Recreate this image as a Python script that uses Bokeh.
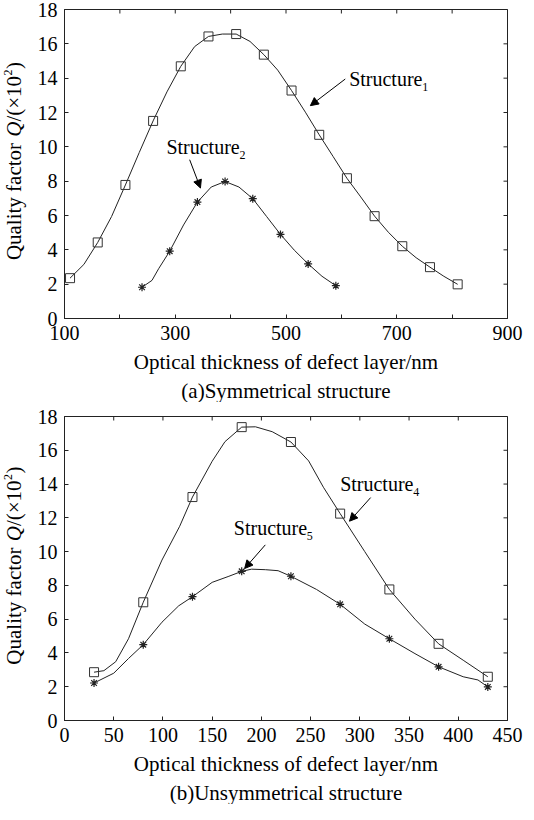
import math
from bokeh.plotting import figure
from bokeh.models import Range1d, FixedTicker, Label, Arrow, NormalHead, Title
from bokeh.layouts import column, row
from bokeh.embed import file_html
from bokeh.resources import INLINE

FONT = "Liberation Serif"

# ---------------- (a) Symmetrical structure ----------------
s1_x = [110, 160, 210, 260, 310, 360, 410, 460, 510, 560, 610, 660, 710, 760, 810]
s1_q = [2.35, 4.43, 7.78, 11.51, 14.69, 16.43, 16.57, 15.37, 13.28, 10.7, 8.17, 5.96, 4.21, 2.99, 1.99]
s1_curve_x = [110, 135, 160, 185, 210, 235, 260, 285, 310, 335, 360, 385, 410, 435, 460, 485,
              510, 535, 560, 585, 610, 635, 660, 685, 710, 735, 760, 785, 810]
s1_curve_q = [2.35, 3.15, 4.43, 5.94, 7.78, 9.67, 11.51, 13.2, 14.69, 15.84, 16.43, 16.57, 16.57,
              16.14, 15.37, 14.47, 13.28, 12.02, 10.7, 9.44, 8.17, 7.08, 5.96, 5.02, 4.21, 3.54,
              2.99, 2.46, 1.99]

s2_x = [240, 290, 340, 390, 440, 490, 540, 590]
s2_q = [1.82, 3.92, 6.78, 7.98, 6.98, 4.90, 3.18, 1.91]
s2_curve_x = [240, 258, 270, 290, 315, 340, 365, 390, 415, 440, 465, 490, 515, 540, 565, 590]
s2_curve_q = [1.82, 2.22, 2.9, 3.92, 5.45, 6.78, 7.66, 7.98, 7.66, 6.98, 5.94, 4.90, 3.98, 3.18, 2.46, 1.91]

a_xticks = [100, 200, 300, 400, 500, 600, 700, 800, 900]
a_xlabels = {200: "", 400: "", 600: "", 800: ""}

# ---------------- (b) Unsymmetrical structure ----------------
s4_x = [30, 80, 130, 180, 230, 280, 330, 380, 430]
s4_q = [2.86, 7.0, 13.23, 17.37, 16.49, 12.25, 7.76, 4.54, 2.59]
s4_curve_x = [30, 40, 52, 65, 80, 99, 117, 130, 150, 163, 180, 194, 211, 230, 248, 263, 280,
              305, 330, 356, 380, 405, 430]
s4_curve_q = [2.86, 2.95, 3.48, 4.84, 7.0, 9.5, 11.5, 13.23, 15.35, 16.51, 17.37, 17.39, 17.1,
              16.49, 15.37, 13.81, 12.25, 10.0, 7.76, 6.0, 4.54, 3.57, 2.59]

s5_x = [30, 80, 130, 180, 230, 280, 330, 380, 430]
s5_q = [2.22, 4.49, 7.33, 8.83, 8.54, 6.88, 4.84, 3.18, 1.99]
s5_curve_x = [30, 50, 65, 80, 99, 116, 130, 150, 167, 180, 190, 204, 217, 230, 256, 280, 305,
              330, 356, 380, 405, 420, 430]
s5_curve_q = [2.22, 2.8, 3.67, 4.49, 5.82, 6.79, 7.33, 8.18, 8.54, 8.83, 8.96, 8.93, 8.87, 8.54,
              7.76, 6.88, 5.71, 4.84, 3.96, 3.18, 2.59, 2.4, 1.99]

b_xticks = [0, 50, 100, 150, 200, 250, 300, 350, 400, 450]
y_ticks = [0, 2, 4, 6, 8, 10, 12, 14, 16, 18]

X_LABEL = "Optical thickness of defect layer/nm"
CAPTION_A = "(a)Symmetrical structure"
CAPTION_B = "(b)Unsymmetrical structure"
LINE = "#222222"
MIN_BOTTOM = 40


def ylabel_fig(height, border_top, frame_h):
    """Narrow figure left of a panel (frame-aligned with it) carrying the y label."""
    f = figure(width=30, height=height, x_range=Range1d(0, 30), y_range=Range1d(0, 18),
               x_axis_type=None, y_axis_type=None, output_backend="svg", toolbar_location=None,
               min_border_left=0, min_border_right=0, min_border_top=border_top,
               min_border_bottom=MIN_BOTTOM)
    f.xgrid.visible = False
    f.ygrid.visible = False
    f.outline_line_color = None
    f.background_fill_color = "white"
    f.border_fill_color = "white"
    fs = 21.0
    per_px = 18.0 / frame_h
    total = 197.0
    pos = frame_h / 2 + 3 - total / 2
    pieces = [("Quality factor", "normal", 5582 * fs / 1000 + 0.25 * fs, "21px", 13),
              ("Q", "italic", 722 * fs / 1000, "21px", 13),
              ("/(×10", "normal", 2175 * fs / 1000, "21px", 13),
              ("2", "normal", 6.5, "12px", 7),
              (")", "normal", 7, "21px", 13)]
    for txt, style, w, size, xx in pieces:
        f.add_layout(Label(x=xx, y=pos * per_px, text=txt,
                           text_font=FONT, text_font_style=style, text_font_size=size,
                           angle=math.pi / 2, text_align="left", text_baseline="middle",
                           text_color="black"))
        pos += w
    return f


def make_panel(xr, xticks, xoverrides, height, border_top, caption, cap_offset):
    p = figure(width=494, height=height, x_range=Range1d(*xr), y_range=Range1d(0, 18),
               output_backend="svg", toolbar_location=None,
               min_border_left=34, min_border_right=17,
               min_border_top=border_top, min_border_bottom=MIN_BOTTOM)
    p.xgrid.visible = False
    p.ygrid.visible = False
    p.outline_line_color = LINE
    p.background_fill_color = "white"
    p.border_fill_color = "white"

    p.xaxis.ticker = FixedTicker(ticks=xticks)
    p.yaxis.ticker = FixedTicker(ticks=y_ticks)
    if xoverrides:
        p.xaxis.major_label_overrides = xoverrides
    p.axis.axis_line_color = LINE
    p.axis.major_tick_line_color = LINE
    p.axis.major_tick_in = 4
    p.axis.major_tick_out = 0
    p.axis.minor_tick_line_color = None
    p.axis.major_label_text_font = FONT
    p.axis.major_label_text_font_size = "20px"
    p.axis.major_label_text_color = "black"
    p.xaxis.major_label_standoff = 7
    p.yaxis.major_label_standoff = 7

    p.xaxis.axis_label = X_LABEL
    p.xaxis.axis_label_text_font = FONT
    p.xaxis.axis_label_text_font_size = "21px"
    p.xaxis.axis_label_text_font_style = "normal"
    p.xaxis.axis_label_text_color = "black"
    p.xaxis.axis_label_standoff = 7

    p.add_layout(Title(text=caption, align="center", offset=cap_offset, text_font=FONT,
                       text_font_size="21px", text_font_style="normal", text_color="black",
                       standoff=0), "below")

    # inward ticks on the top and right edges (half of each dash is clipped by the frame)
    p.scatter(xticks, [18] * len(xticks), marker="dash", size=8, angle=math.pi / 2,
              line_color=LINE, line_width=1)
    p.scatter([xr[1]] * len(y_ticks), y_ticks, marker="dash", size=8,
              line_color=LINE, line_width=1)
    return p


def structure_label(p, x, y, sub):
    p.add_layout(Label(x=x, y=y, text="Structure", text_font=FONT, text_font_size="20px",
                       text_align="left", text_baseline="middle", text_color="black"))
    p.add_layout(Label(x=x, y=y, x_offset=73, y_offset=-8, text=sub, text_font=FONT,
                       text_font_size="12px", text_align="left", text_baseline="middle",
                       text_color="black"))


def arrow(p, xs, ys, xe, ye):
    p.add_layout(Arrow(end=NormalHead(size=8, fill_color="black", line_color="black"),
                       x_start=xs, y_start=ys, x_end=xe, y_end=ye,
                       line_color="black", line_width=1))


# panel (a)
HA, TA, FA = 402, 9, 307
pa = make_panel((100, 900), a_xticks, a_xlabels, HA, TA, CAPTION_A, 0)
pa.line(s1_curve_x, s1_curve_q, line_color=LINE, line_width=1)
pa.line(s2_curve_x, s2_curve_q, line_color=LINE, line_width=1)
pa.scatter(s1_x, s1_q, marker="square", size=9, fill_color=None, line_color="#333333", line_width=1)
pa.scatter(s2_x, s2_q, marker="asterisk", size=8, line_color="#222222", line_width=1.2)
structure_label(pa, 614, 13.95, "1")
arrow(pa, 607, 13.95, 544, 12.4)
structure_label(pa, 284, 10.0, "2")
arrow(pa, 326, 9.25, 345.5, 7.6)

# panel (b)
HB, TB, FB = 402, 14, 302
pb = make_panel((0, 450), b_xticks, None, HB, TB, CAPTION_B, -12)
pb.line(s4_curve_x, s4_curve_q, line_color=LINE, line_width=1)
pb.line(s5_curve_x, s5_curve_q, line_color=LINE, line_width=1)
pb.scatter(s4_x, s4_q, marker="square", size=9, fill_color=None, line_color="#333333", line_width=1)
pb.scatter(s5_x, s5_q, marker="asterisk", size=8, line_color="#222222", line_width=1.2)
structure_label(pb, 280, 14.0, "4")
arrow(pb, 311, 13.2, 289.5, 11.8)
structure_label(pb, 172, 11.37, "5")
arrow(pb, 204, 10.4, 183, 9.0)

layout = column(
    row(ylabel_fig(HA, TA, FA), pa, spacing=0),
    row(ylabel_fig(HB, TB, FB), pb, spacing=0),
    spacing=0,
)
open("out.html", "w").write(file_html(layout, INLINE))
